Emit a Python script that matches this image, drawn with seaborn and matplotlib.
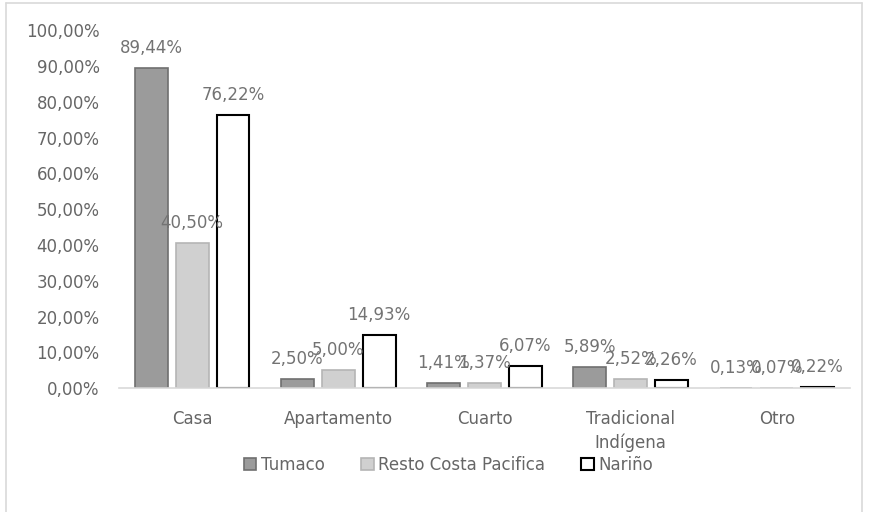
import pandas as pd
import seaborn as sns
import matplotlib.pyplot as plt
from matplotlib.lines import Line2D

categories = ['Casa', 'Apartamento', 'Cuarto', 'Tradicional\nIndígena', 'Otro']
series = ['Tumaco', 'Resto Costa Pacifica', 'Nariño']
tumaco = [89.44, 2.50, 1.41, 5.89, 0.13]
resto = [40.50, 5.00, 1.37, 2.52, 0.07]
narino = [76.22, 14.93, 6.07, 2.26, 0.22]
y_ticks = list(range(0, 101, 10))

rows = []
for name, vals in zip(series, [tumaco, resto, narino]):
    for cat, v in zip(categories, vals):
        rows.append({'tipo': cat, 'zona': name, 'valor': v})
df = pd.DataFrame(rows)

sns.set_style('white')
plt.rcParams['font.family'] = ['DejaVu Sans']
text_gray = '#666666'

fig = plt.figure(figsize=(8.69, 5.12), dpi=100)
ax = fig.add_axes([0.137, 0.242, 0.841, 0.699])

fills = ['#9b9b9b', '#d0d0d0', '#ffffff']
edges = ['#6f6f6f', '#b5b5b5', '#000000']
widths = [1.2, 1.2, 1.5]

sns.barplot(data=df, x='tipo', y='valor', hue='zona', order=categories,
            hue_order=series, palette=fills, width=0.84, gap=0.2,
            ax=ax, legend=False)

for cont, ec, lw in zip(ax.containers, edges, widths):
    for bar in cont:
        bar.set_edgecolor(ec)
        bar.set_linewidth(lw)
    labels = [f"{b.get_height():.2f}%".replace('.', ',') for b in cont]
    ax.bar_label(cont, labels=labels, padding=8, fontsize=12, color='#737373')

ax.set_ylim(0, 100)
ax.set_yticks(y_ticks)
ax.set_yticklabels([f"{t:.2f}%".replace('.', ',') for t in y_ticks])
ax.set_xlim(-0.5, 4.5)
ax.set_xlabel('')
ax.set_ylabel('')
ax.tick_params(axis='both', length=0, labelsize=12, labelcolor=text_gray)
ax.tick_params(axis='x', pad=16)
ax.tick_params(axis='y', pad=14)
for lab in ax.get_xticklabels():
    lab.set_linespacing(1.35)
for side in ['top', 'right', 'left']:
    ax.spines[side].set_visible(False)
ax.spines['bottom'].set_color('#d9d9d9')
ax.spines['bottom'].set_linewidth(1.2)

handles = [plt.Rectangle((0, 0), 1, 1, facecolor=f, edgecolor=e, linewidth=lw)
           for f, e, lw in zip(fills, edges, widths)]
fig.legend(handles, series, loc='center', bbox_to_anchor=(0.516, 0.092), ncol=3,
           frameon=False, handlelength=0.75, handleheight=0.75, handletextpad=0.25,
           columnspacing=2.2, fontsize=12, labelcolor=text_gray)

# light frame around the chart
for xs, ys in [([0.007, 0.007], [0, 0.994]), ([0.007, 0.992], [0.994, 0.994]),
               ([0.992, 0.992], [0, 0.994])]:
    fig.add_artist(Line2D(xs, ys, color='#d9d9d9', linewidth=1.2, transform=fig.transFigure))

fig.savefig('out.png', dpi=100)
